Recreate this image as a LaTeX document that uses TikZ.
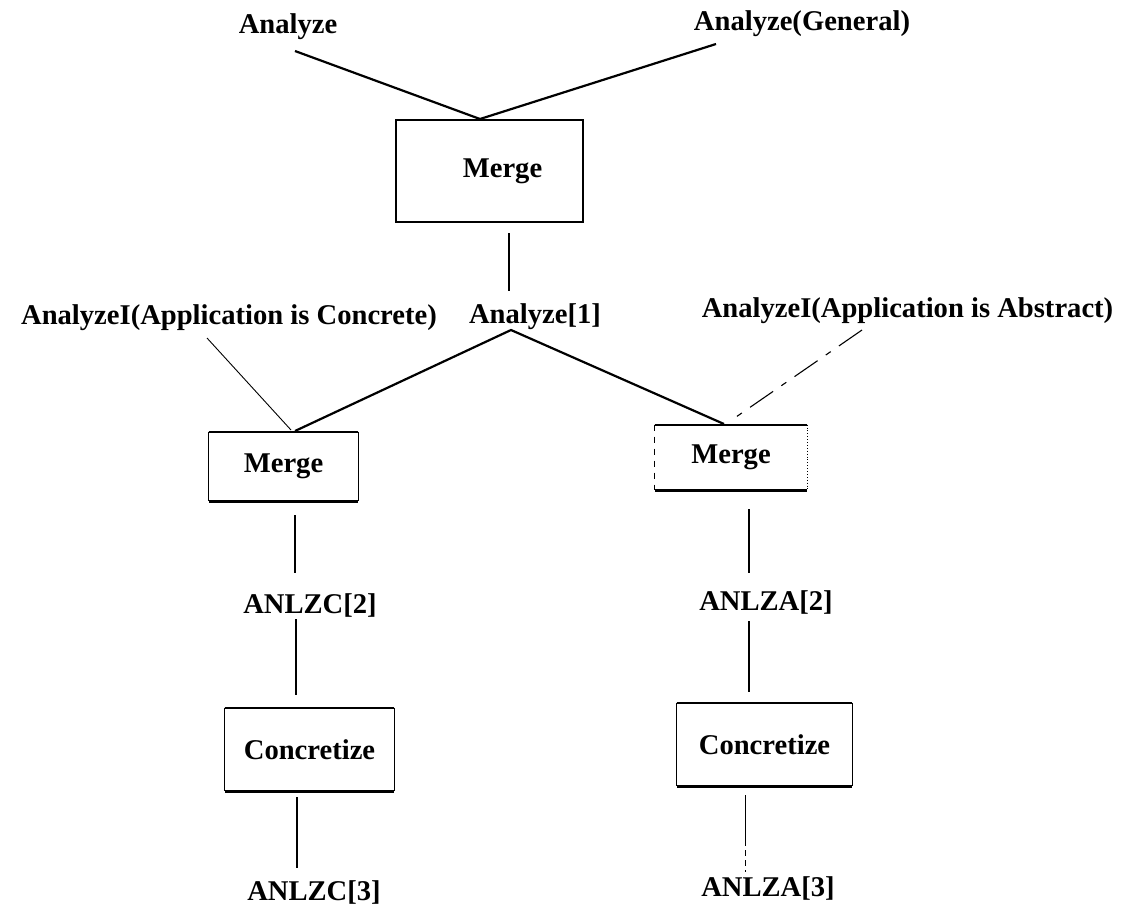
\documentclass[tikz,border=0pt]{standalone}
\usepackage{fontspec}
\setmainfont{Liberation Serif}
\begin{document}
\begin{tikzpicture}[x=0.5pt,y=-0.5pt,
  lbl/.style={inner sep=0pt, font=\fontsize{14.3pt}{16pt}\selectfont\bfseries},
  heavy/.style={line width=1.1pt},
  light/.style={line width=0.55pt},
  hair/.style={line width=0.45pt}]
\useasboundingbox (0,0) rectangle (1140,912);

% top labels and merge box
\node[lbl] (a0) at (288,27) {Analyze};
\node[lbl] (ag) at (802,24) {Analyze(General)};
\node[lbl, draw, line width=1.2pt, minimum width=93.5pt, minimum height=51pt] (m0) at (489.5,171) {\hspace*{13pt}Merge};
\coordinate (a0e) at (295,51);
\coordinate (age) at (716,44);
\coordinate (m0t) at (480,119);
\draw[heavy] (a0e) -- (m0t);
\draw[heavy] (age) -- (m0t);

% Analyze[1]
\node[lbl] (a1) at (535,317) {Analyze[1]};
\coordinate (m0b) at (509,233);
\coordinate (a1t) at (509,291);
\draw[light] (m0b) -- (a1t);

% second level labels
\node[lbl] (cL) at (229,318) {AnalyzeI(Application is Concrete)};
\node[lbl] (cA) at (907.5,311) {AnalyzeI(Application is Abstract)};

% second level merge boxes
\node[lbl, minimum width=74.5pt, minimum height=34.5pt] (m1) at (283.5,466.5) {Merge};
\node[lbl, minimum width=76pt, minimum height=32.5pt] (m2) at (731,457.5) {Merge};
\draw[heavy] (m1.north west) -- (m1.north east);
\draw[heavy] (m1.south west) -- (m1.south east);
\draw[light] (m1.north west) -- (m1.south west);
\draw[light] (m1.north east) -- (m1.south east);
\draw[heavy] (m2.north west) -- (m2.north east);
\draw[heavy] (m2.south west) -- (m2.south east);
\draw[hair, dashed] (m2.north west) -- (m2.south west);
\draw[hair, densely dotted] (m2.north east) -- (m2.south east);

\coordinate (a1b) at (511,330);
\coordinate (m1t) at (295,431);
\coordinate (m2t) at (724,424);
\draw[heavy] (m1t) -- (a1b) -- (m2t);
\coordinate (cLe) at (207,338);
\coordinate (m1t2) at (291,430);
\draw[hair] (cLe) -- (m1t2);
\coordinate (cAe) at (862,330);
\coordinate (m2t2) at (736,417);
\draw[light, dash pattern=on 14pt off 5pt on 3pt off 5pt] (cAe) -- (m2t2);

% left column
\node[lbl] (z2) at (310,605) {ANLZC[2]};
\node[lbl, minimum width=84.5pt, minimum height=41.5pt] (k1) at (309.5,749.5) {Concretize};
\node[lbl] (z3) at (314,892) {ANLZC[3]};
\draw[heavy] (k1.north west) -- (k1.north east);
\draw[heavy] (k1.south west) -- (k1.south east);
\draw[light] (k1.north west) -- (k1.south west);
\draw[light] (k1.north east) -- (k1.south east);
\coordinate (l1a) at (295,515);
\coordinate (l1b) at (295,573);
\coordinate (l2a) at (296,619);
\coordinate (l2b) at (296,695);
\coordinate (l3a) at (297,797);
\coordinate (l3b) at (297,868);
\draw[light] (l1a) -- (l1b);
\draw[light] (l2a) -- (l2b);
\draw[light] (l3a) -- (l3b);

% right column
\node[lbl] (y2) at (766,602) {ANLZA[2]};
\node[lbl, minimum width=87.5pt, minimum height=41.5pt] (k2) at (764.5,744.5) {Concretize};
\node[lbl] (y3) at (768,888) {ANLZA[3]};
\draw[heavy] (k2.north west) -- (k2.north east);
\draw[heavy] (k2.south west) -- (k2.south east);
\draw[light] (k2.north west) -- (k2.south west);
\draw[hair] (k2.north east) -- (k2.south east);
\coordinate (r1a) at (749,509);
\coordinate (r1b) at (749,573);
\coordinate (r2a) at (749,621);
\coordinate (r2b) at (749,692);
\coordinate (r3a) at (745,795);
\coordinate (r3m) at (745,840);
\coordinate (r3b) at (745,872);
\draw[light] (r1a) -- (r1b);
\draw[light] (r2a) -- (r2b);
\draw[hair] (r3a) -- (r3m);
\draw[hair, densely dashed] (r3m) -- (r3b);
\end{tikzpicture}
\end{document}
